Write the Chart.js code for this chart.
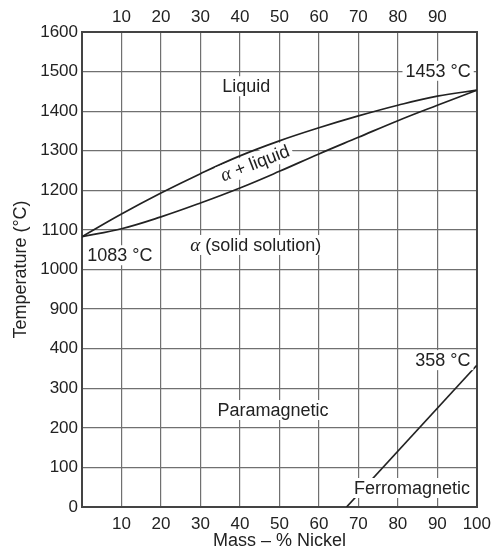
<!DOCTYPE html>
<html>
<head>
<meta charset="utf-8">
<script src="https://cdn.jsdelivr.net/npm/chart.js@4"></script>
<style>
  html, body { margin: 0; padding: 0; background: #fff; }
</style>
</head>
<body>
<canvas id="chart" width="498" height="552"></canvas>
<script>
// Cu-Ni phase diagram, y axis is broken between 400 and 900 °C
const nickel = [0, 10, 20, 30, 40, 50, 60, 70, 80, 90, 100];
const liquidus = [1083, 1140, 1193, 1242, 1287, 1325, 1358, 1388, 1415, 1438, 1453];
const solidus = [1083, 1103, 1133, 1168, 1206, 1248, 1292, 1334, 1376, 1415, 1453];
const curieNickel = [67, 100];
const curieTemp = [0, 358];
const tempTicks = [0, 100, 200, 300, 400, 900, 1000, 1100, 1200, 1300, 1400, 1500, 1600];

const noteText = ['Liquid', '1453 °C', 'α + liquid', '1083 °C', 'α (solid solution)', 'Paramagnetic', '358 °C', 'Ferromagnetic'];
const noteNickel = [41.6, 90.2, 43.8, 9.6, 44, 48.4, 91.4, 83.6];
const noteTemp = [1463, 1502, 1269, 1036, 1062, 245, 371, 48];
const noteAngle = [0, 0, -21, 0, 0, 0, 0, 0];

const FONT = '"Liberation Sans", Arial, sans-serif';
const INK = '#222';

// temperatures above the break are shifted down so the ticks stay evenly spaced
function toAxis(t) { return t <= 400 ? t : t - 400; }

const pts = (xs, ys) => xs.map((v, i) => ({ x: v, y: toAxis(ys[i]) }));

const notes = {
  id: 'notes',
  afterDatasetsDraw(chart) {
    const { ctx, scales: { x, y } } = chart;
    noteText.forEach((txt, i) => {
      const px = x.getPixelForValue(noteNickel[i]);
      const py = y.getPixelForValue(toAxis(noteTemp[i]));
      // split out the alpha so it can be drawn italic serif
      const segs = txt.split(/(α)/).filter(s => s.length).map(s => ({
        s, font: s === 'α' ? 'italic 19px "Liberation Serif", serif' : '18px ' + FONT
      }));
      ctx.save();
      ctx.translate(px, py);
      ctx.rotate(noteAngle[i] * Math.PI / 180);
      let w = 0;
      segs.forEach(g => { ctx.font = g.font; g.w = ctx.measureText(g.s).width; w += g.w; });
      ctx.fillStyle = '#fff';
      ctx.fillRect(-w / 2 - 3, -10, w + 6, 20);
      ctx.fillStyle = INK;
      ctx.textBaseline = 'middle';
      let cx = -w / 2;
      segs.forEach(g => { ctx.font = g.font; ctx.fillText(g.s, cx, 1); cx += g.w; });
      ctx.restore();
    });
  }
};

const lineStyle = {
  showLine: true,
  pointRadius: 0,
  borderColor: INK,
  borderWidth: 1.7,
  fill: false,
  tension: 0.4
};

new Chart(document.getElementById('chart').getContext('2d'), {
  type: 'scatter',
  data: {
    datasets: [
      { label: 'liquidus', data: pts(nickel, liquidus), ...lineStyle },
      { label: 'solidus', data: pts(nickel, solidus), ...lineStyle },
      { label: 'curie', data: pts(curieNickel, curieTemp), ...lineStyle, tension: 0 }
    ]
  },
  options: {
    responsive: false,
    devicePixelRatio: 1,
    animation: false,
    layout: { padding: 0 },
    plugins: { legend: { display: false }, tooltip: { enabled: false } },
    scales: {
      x: {
        type: 'linear', position: 'bottom', min: 0, max: 100,
        ticks: { stepSize: 10, padding: 7, color: INK, font: { family: FONT, size: 17 },
          callback: v => v === 0 ? '' : v },
        grid: { color: '#707070', lineWidth: 1.2, drawTicks: false },
        border: { color: '#444', width: 2 },
        title: { display: true, text: 'Mass – % Nickel', color: INK, font: { family: FONT, size: 18 }, padding: { top: 3, bottom: 0 } },
        afterFit: s => { s.height = 45; }
      },
      xTop: {
        type: 'linear', position: 'top', min: 0, max: 100,
        ticks: { stepSize: 10, padding: 4, color: INK, font: { family: FONT, size: 17 },
          callback: v => (v === 0 || v === 100) ? '' : v },
        grid: { display: false, drawTicks: false },
        border: { color: '#444', width: 2 },
        afterFit: s => { s.height = 32; }
      },
      y: {
        type: 'linear', position: 'left', min: 0, max: 1200,
        ticks: { stepSize: 100, padding: 4, color: INK, font: { family: FONT, size: 17 },
          callback: v => tempTicks[Math.round(v / 100)] },
        grid: { color: '#707070', lineWidth: 1.2, drawTicks: false },
        border: { color: '#444', width: 2 },
        title: { display: true, text: 'Temperature (°C)', color: INK, font: { family: FONT, size: 18 }, padding: { top: 10, bottom: 0 } },
        afterFit: s => { s.width = 82; }
      },
      yRight: {
        type: 'linear', position: 'right', min: 0, max: 1200,
        ticks: { display: false },
        grid: { display: false, drawTicks: false },
        border: { color: '#444', width: 2 },
        afterFit: s => { s.width = 19; }
      }
    }
  },
  plugins: [notes]
});
</script>
</body>
</html>
